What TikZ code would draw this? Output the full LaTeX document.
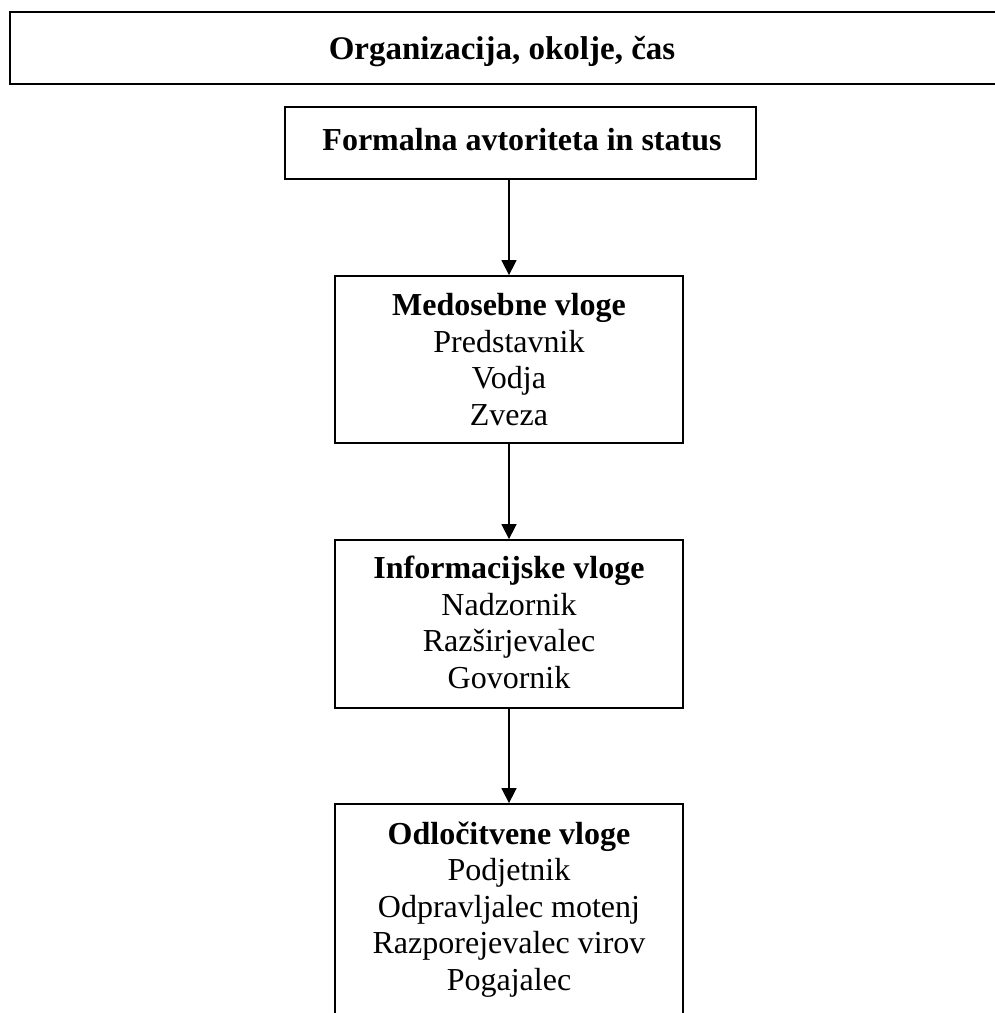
\documentclass[tikz,border=0pt]{standalone}
\usepackage{fontspec}
\setmainfont{Liberation Serif}
\usetikzlibrary{arrows.meta}
\begin{document}
\begin{tikzpicture}[x=1pt,y=-1pt,
  box/.style={draw, line width=1.8pt, inner sep=0pt},
  lbl/.style={font=\fontsize{32}{36.4}\selectfont, align=center, inner sep=0pt, anchor=base},
  flow/.style={line width=1.5pt, -{Triangle[width=15pt,length=15pt]}}]
\useasboundingbox (0,0) rectangle (995,1013);

% frames
\node[box, minimum width=995pt, minimum height=72pt] (org) at (507.5,48) {};
\node[box, minimum width=471pt, minimum height=72pt] (fa) at (520.5,143) {};
\node[box, minimum width=348pt, minimum height=167pt] (med) at (509,359.5) {};
\node[box, minimum width=348pt, minimum height=168pt] (inf) at (509,624) {};
\node[box, minimum width=348pt, minimum height=236pt] (odl) at (509,922) {};

% texts (multi-line labels are anchored at the baseline of their last line)
\node[lbl, font=\fontsize{33}{38}\selectfont] (torg) at (502,59) {\textbf{Organizacija, okolje, čas}};
\node[lbl] (tfa) at (522,150) {\textbf{Formalna avtoriteta in status}};
\node[lbl] (tmed) at (509,425) {\textbf{Medosebne vloge}\\Predstavnik\\Vodja\\Zveza};
\node[lbl] (tinf) at (509,688) {\textbf{Informacijske vloge}\\Nadzornik\\Razširjevalec\\Govornik};
\node[lbl] (todl) at (509,990) {\textbf{Odločitvene vloge}\\Podjetnik\\Odpravljalec motenj\\Razporejevalec virov\\Pogajalec};

% connectors
\draw[flow] (fa.south -| med.north) -- (med.north);
\draw[flow] (med.south) -- (inf.north);
\draw[flow] (inf.south) -- (odl.north);
\end{tikzpicture}
\end{document}
